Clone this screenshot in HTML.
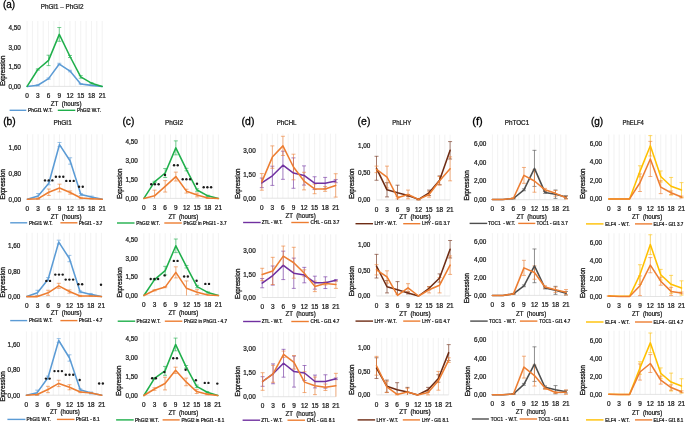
<!DOCTYPE html>
<html><head><meta charset="utf-8"><title>Figure</title>
<style>
html,body{margin:0;padding:0;background:#fff;}
body{width:685px;height:422px;overflow:hidden;}
svg{display:block;will-change:transform;font-family:"Liberation Sans",sans-serif;}
text{fill:#1a1a1a;stroke:#1a1a1a;stroke-width:0.24px;}
text.L{fill:#000;stroke:#000;stroke-width:0.3px;}
text.E{stroke-width:0.32px;}
</style></head>
<body>
<svg width="685" height="422" viewBox="0 0 685 422">
<rect width="685" height="422" fill="#fff"/>
<path d="M27.1 21V86.4M32.46 21V86.4M37.83 21V86.4M43.19 21V86.4M48.56 21V86.4M53.92 21V86.4M59.29 21V86.4M64.65 21V86.4M70.01 21V86.4M75.38 21V86.4M80.74 21V86.4M86.11 21V86.4M91.47 21V86.4M96.84 21V86.4M102.2 21V86.4" stroke="#e9e9e9" stroke-width="0.6" fill="none"/>
<path d="M27.1 86.4H102.2" stroke="#d9d9d9" stroke-width="0.7" fill="none"/>
<text x="8.5" y="88.7" font-size="6.4" textLength="12.4" lengthAdjust="spacingAndGlyphs">0,00</text>
<text x="8.5" y="69.2" font-size="6.4" textLength="12.4" lengthAdjust="spacingAndGlyphs">1,50</text>
<text x="8.5" y="49.7" font-size="6.4" textLength="12.4" lengthAdjust="spacingAndGlyphs">3,00</text>
<text x="8.5" y="30.2" font-size="6.4" textLength="12.4" lengthAdjust="spacingAndGlyphs">4,50</text>
<text x="25.3" y="98.1" font-size="6.4" textLength="3.6" lengthAdjust="spacingAndGlyphs">0</text>
<text x="36.03" y="98.1" font-size="6.4" textLength="3.6" lengthAdjust="spacingAndGlyphs">3</text>
<text x="46.76" y="98.1" font-size="6.4" textLength="3.6" lengthAdjust="spacingAndGlyphs">6</text>
<text x="57.49" y="98.1" font-size="6.4" textLength="3.6" lengthAdjust="spacingAndGlyphs">9</text>
<text x="66.46" y="98.1" font-size="6.4" textLength="7.1" lengthAdjust="spacingAndGlyphs">12</text>
<text x="77.19" y="98.1" font-size="6.4" textLength="7.1" lengthAdjust="spacingAndGlyphs">15</text>
<text x="87.92" y="98.1" font-size="6.4" textLength="7.1" lengthAdjust="spacingAndGlyphs">18</text>
<text x="98.65" y="98.1" font-size="6.4" textLength="7.1" lengthAdjust="spacingAndGlyphs">21</text>
<text x="50.8" y="105.7" font-size="6.4" textLength="30.7" lengthAdjust="spacingAndGlyphs">ZT&#160;&#160;(hours)</text>
<text transform="translate(5.1 85.8) rotate(-90)" x="0" y="0" font-size="6.4" class="E" textLength="30.2" lengthAdjust="spacingAndGlyphs">Expression</text>
<path d="M37.83 84.58V85.88M35.83 84.58h4M35.83 85.88h4M48.56 77.95V79.25M46.56 77.95h4M46.56 79.25h4M59.29 63.26V64.82M57.29 63.26h4M57.29 64.82h4M70.01 70.28V71.84M68.01 70.28h4M68.01 71.84h4M80.74 83.54V84.32M78.74 83.54h4M78.74 84.32h4M91.47 85.1V85.62M89.47 85.1h4M89.47 85.62h4" stroke="#5B9BD5" stroke-width="0.75" fill="none" opacity="0.8"/>
<path d="M37.83 68.85V70.15M35.83 68.85h4M35.83 70.15h4M48.56 55.2V65.6M46.56 55.2h4M46.56 65.6h4M59.29 27.51V41.29M57.29 27.51h4M57.29 41.29h4M70.01 55.46V57.54M68.01 55.46h4M68.01 57.54h4M80.74 75.61V78.21M78.74 75.61h4M78.74 78.21h4M91.47 82.5V83.8M89.47 82.5h4M89.47 83.8h4" stroke="#1FAF4B" stroke-width="0.75" fill="none" opacity="0.8"/>
<polyline points="27.1,86.4 37.83,85.23 48.56,78.6 59.29,64.04 70.01,71.06 80.74,83.93 91.47,85.36 102.2,86.4" stroke="#5B9BD5" stroke-width="1.55" fill="none" stroke-linejoin="round" stroke-linecap="round"/>
<polyline points="27.1,86.4 37.83,69.5 48.56,60.4 59.29,34.4 70.01,56.5 80.74,76.91 91.47,83.15 102.2,86.4" stroke="#1FAF4B" stroke-width="1.55" fill="none" stroke-linejoin="round" stroke-linecap="round"/>
<path d="M9.6 110.3H26.3" stroke="#5B9BD5" stroke-width="1.4" fill="none"/>
<text x="28" y="112" font-size="4.7" textLength="24.6" lengthAdjust="spacingAndGlyphs">PhGI1 W.T.</text>
<path d="M57.8 110.3H75.3" stroke="#1FAF4B" stroke-width="1.4" fill="none"/>
<text x="77" y="112" font-size="4.7" textLength="24" lengthAdjust="spacingAndGlyphs">PhGI2 W.T.</text>
<text x="3" y="8.2" font-size="10.5" textLength="12.2" lengthAdjust="spacingAndGlyphs" class="L">(a)</text>
<text x="40.7" y="8.7" font-size="6.4" textLength="42.8" lengthAdjust="spacingAndGlyphs">PhGI1 &#8211; PhGI2</text>
<path d="M27.4 134.3V199.3M32.75 134.3V199.3M38.1 134.3V199.3M43.45 134.3V199.3M48.8 134.3V199.3M54.15 134.3V199.3M59.5 134.3V199.3M64.85 134.3V199.3M70.2 134.3V199.3M75.55 134.3V199.3M80.9 134.3V199.3M86.25 134.3V199.3M91.6 134.3V199.3M96.95 134.3V199.3M102.3 134.3V199.3" stroke="#e9e9e9" stroke-width="0.6" fill="none"/>
<path d="M27.4 199.3H102.3" stroke="#d9d9d9" stroke-width="0.7" fill="none"/>
<text x="8.6" y="201.6" font-size="6.4" textLength="12.4" lengthAdjust="spacingAndGlyphs">0,00</text>
<text x="8.6" y="175.84" font-size="6.4" textLength="12.4" lengthAdjust="spacingAndGlyphs">0,80</text>
<text x="8.6" y="150.08" font-size="6.4" textLength="12.4" lengthAdjust="spacingAndGlyphs">1,60</text>
<text x="25.6" y="211" font-size="6.4" textLength="3.6" lengthAdjust="spacingAndGlyphs">0</text>
<text x="36.3" y="211" font-size="6.4" textLength="3.6" lengthAdjust="spacingAndGlyphs">3</text>
<text x="47" y="211" font-size="6.4" textLength="3.6" lengthAdjust="spacingAndGlyphs">6</text>
<text x="57.7" y="211" font-size="6.4" textLength="3.6" lengthAdjust="spacingAndGlyphs">9</text>
<text x="66.65" y="211" font-size="6.4" textLength="7.1" lengthAdjust="spacingAndGlyphs">12</text>
<text x="77.35" y="211" font-size="6.4" textLength="7.1" lengthAdjust="spacingAndGlyphs">15</text>
<text x="88.05" y="211" font-size="6.4" textLength="7.1" lengthAdjust="spacingAndGlyphs">18</text>
<text x="98.75" y="211" font-size="6.4" textLength="7.1" lengthAdjust="spacingAndGlyphs">21</text>
<text x="50.8" y="218.5" font-size="6.4" textLength="30.7" lengthAdjust="spacingAndGlyphs">ZT&#160;&#160;(hours)</text>
<text transform="translate(5.2 199.4) rotate(-90)" x="0" y="0" font-size="6.4" class="E" textLength="30.2" lengthAdjust="spacingAndGlyphs">Expression</text>
<path d="M38.1 193.5V198.66M36.1 193.5h4M36.1 198.66h4M48.8 181.59V184.81M46.8 181.59h4M46.8 184.81h4M59.5 142.47V146.65M57.5 142.47h4M57.5 146.65h4M70.2 157.76V164.2M68.2 157.76h4M68.2 164.2h4M80.9 193.5V195.44M78.9 193.5h4M78.9 195.44h4M91.6 196.08V198.01M89.6 196.08h4M89.6 198.01h4" stroke="#5B9BD5" stroke-width="0.75" fill="none" opacity="0.8"/>
<path d="M38.1 198.01V199.3M36.1 198.01h4M36.1 199.3h4M48.8 189V195.44M46.8 189h4M46.8 195.44h4M59.5 184.17V191.89M57.5 184.17h4M57.5 191.89h4M70.2 190.93V194.15M68.2 190.93h4M68.2 194.15h4M80.9 197.37V198.66M78.9 197.37h4M78.9 198.66h4M91.6 198.33V198.98M89.6 198.33h4M89.6 198.98h4" stroke="#ED7D31" stroke-width="0.75" fill="none" opacity="0.8"/>
<polyline points="27.4,199.3 38.1,196.08 48.8,183.2 59.5,144.56 70.2,160.98 80.9,194.47 91.6,197.05 102.3,199.3" stroke="#5B9BD5" stroke-width="1.55" fill="none" stroke-linejoin="round" stroke-linecap="round"/>
<polyline points="27.4,199.3 38.1,198.66 48.8,192.22 59.5,188.03 70.2,192.54 80.9,198.01 91.6,198.66 102.3,199.3" stroke="#ED7D31" stroke-width="1.55" fill="none" stroke-linejoin="round" stroke-linecap="round"/>
<circle cx="45" cy="180.4" r="1.2" fill="#1a1a1a"/>
<circle cx="48.7" cy="180.4" r="1.2" fill="#1a1a1a"/>
<circle cx="52.4" cy="180.4" r="1.2" fill="#1a1a1a"/>
<circle cx="55.9" cy="176.7" r="1.2" fill="#1a1a1a"/>
<circle cx="59.6" cy="176.7" r="1.2" fill="#1a1a1a"/>
<circle cx="63.3" cy="176.7" r="1.2" fill="#1a1a1a"/>
<circle cx="66.3" cy="180.9" r="1.2" fill="#1a1a1a"/>
<circle cx="70" cy="180.9" r="1.2" fill="#1a1a1a"/>
<circle cx="73.7" cy="180.9" r="1.2" fill="#1a1a1a"/>
<circle cx="79.05" cy="186.8" r="1.2" fill="#1a1a1a"/>
<circle cx="82.75" cy="186.8" r="1.2" fill="#1a1a1a"/>
<path d="M10.2 222.8H27.2" stroke="#5B9BD5" stroke-width="1.4" fill="none"/>
<text x="28.9" y="224.5" font-size="4.7" textLength="23.7" lengthAdjust="spacingAndGlyphs">PhGI1 W.T.</text>
<path d="M60.4 222.8H77.4" stroke="#ED7D31" stroke-width="1.4" fill="none"/>
<text x="78.8" y="224.5" font-size="4.7" textLength="23.6" lengthAdjust="spacingAndGlyphs">PhGI1 - 3.7</text>
<path d="M26.8 232.8V296.6M32.13 232.8V296.6M37.46 232.8V296.6M42.79 232.8V296.6M48.11 232.8V296.6M53.44 232.8V296.6M58.77 232.8V296.6M64.1 232.8V296.6M69.43 232.8V296.6M74.76 232.8V296.6M80.09 232.8V296.6M85.41 232.8V296.6M90.74 232.8V296.6M96.07 232.8V296.6M101.4 232.8V296.6" stroke="#e9e9e9" stroke-width="0.6" fill="none"/>
<path d="M26.8 296.6H101.4" stroke="#d9d9d9" stroke-width="0.7" fill="none"/>
<text x="7.9" y="298.9" font-size="6.4" textLength="12.4" lengthAdjust="spacingAndGlyphs">0,00</text>
<text x="7.9" y="273.54" font-size="6.4" textLength="12.4" lengthAdjust="spacingAndGlyphs">0,80</text>
<text x="7.9" y="248.18" font-size="6.4" textLength="12.4" lengthAdjust="spacingAndGlyphs">1,60</text>
<text x="25" y="308.3" font-size="6.4" textLength="3.6" lengthAdjust="spacingAndGlyphs">0</text>
<text x="35.66" y="308.3" font-size="6.4" textLength="3.6" lengthAdjust="spacingAndGlyphs">3</text>
<text x="46.31" y="308.3" font-size="6.4" textLength="3.6" lengthAdjust="spacingAndGlyphs">6</text>
<text x="56.97" y="308.3" font-size="6.4" textLength="3.6" lengthAdjust="spacingAndGlyphs">9</text>
<text x="65.88" y="308.3" font-size="6.4" textLength="7.1" lengthAdjust="spacingAndGlyphs">12</text>
<text x="76.54" y="308.3" font-size="6.4" textLength="7.1" lengthAdjust="spacingAndGlyphs">15</text>
<text x="87.19" y="308.3" font-size="6.4" textLength="7.1" lengthAdjust="spacingAndGlyphs">18</text>
<text x="97.85" y="308.3" font-size="6.4" textLength="7.1" lengthAdjust="spacingAndGlyphs">21</text>
<text x="50.8" y="315.2" font-size="6.4" textLength="30.7" lengthAdjust="spacingAndGlyphs">ZT&#160;&#160;(hours)</text>
<text transform="translate(5.2 297.4) rotate(-90)" x="0" y="0" font-size="6.4" class="E" textLength="30.2" lengthAdjust="spacingAndGlyphs">Expression</text>
<path d="M37.46 290.26V295.33M35.46 290.26h4M35.46 295.33h4M48.11 277.58V280.75M46.11 277.58h4M46.11 280.75h4M58.77 240.17V243.98M56.77 240.17h4M56.77 243.98h4M69.43 255.39V261.73M67.43 255.39h4M67.43 261.73h4M80.09 290.89V292.8M78.09 290.89h4M78.09 292.8h4M90.74 293.43V295.33M88.74 293.43h4M88.74 295.33h4" stroke="#5B9BD5" stroke-width="0.75" fill="none" opacity="0.8"/>
<path d="M37.46 295.97V296.6M35.46 295.97h4M48.11 290.26V295.33M46.11 290.26h4M46.11 295.33h4M58.77 283.29V288.36M56.77 283.29h4M56.77 288.36h4M69.43 289.94V293.11M67.43 289.94h4M67.43 293.11h4M80.09 295.33V296.6M78.09 295.33h4M78.09 296.6h4M90.74 295.65V296.28M88.74 295.65h4M88.74 296.28h4" stroke="#ED7D31" stroke-width="0.75" fill="none" opacity="0.8"/>
<polyline points="26.8,296.6 37.46,292.8 48.11,279.17 58.77,242.08 69.43,258.56 80.09,291.85 90.74,294.38 101.4,296.6" stroke="#5B9BD5" stroke-width="1.55" fill="none" stroke-linejoin="round" stroke-linecap="round"/>
<polyline points="26.8,296.6 37.46,296.6 48.11,292.8 58.77,285.82 69.43,291.53 80.09,295.97 90.74,295.97 101.4,296.6" stroke="#ED7D31" stroke-width="1.55" fill="none" stroke-linejoin="round" stroke-linecap="round"/>
<circle cx="46.35" cy="280.9" r="1.2" fill="#1a1a1a"/>
<circle cx="50.05" cy="280.9" r="1.2" fill="#1a1a1a"/>
<circle cx="55.3" cy="274.6" r="1.2" fill="#1a1a1a"/>
<circle cx="59" cy="274.6" r="1.2" fill="#1a1a1a"/>
<circle cx="62.7" cy="274.6" r="1.2" fill="#1a1a1a"/>
<circle cx="65.7" cy="279.6" r="1.2" fill="#1a1a1a"/>
<circle cx="69.4" cy="279.6" r="1.2" fill="#1a1a1a"/>
<circle cx="73.1" cy="279.6" r="1.2" fill="#1a1a1a"/>
<circle cx="78.45" cy="284.3" r="1.2" fill="#1a1a1a"/>
<circle cx="82.15" cy="284.3" r="1.2" fill="#1a1a1a"/>
<circle cx="101" cy="284.8" r="1.2" fill="#1a1a1a"/>
<path d="M10.2 320.6H27.2" stroke="#5B9BD5" stroke-width="1.4" fill="none"/>
<text x="28.9" y="322.3" font-size="4.7" textLength="23.7" lengthAdjust="spacingAndGlyphs">PhGI1 W.T.</text>
<path d="M60.4 320.6H77.4" stroke="#ED7D31" stroke-width="1.4" fill="none"/>
<text x="78.8" y="322.3" font-size="4.7" textLength="23.6" lengthAdjust="spacingAndGlyphs">PhGI1 - 4.7</text>
<path d="M26.4 331.5V395.2M31.79 331.5V395.2M37.17 331.5V395.2M42.56 331.5V395.2M47.94 331.5V395.2M53.33 331.5V395.2M58.71 331.5V395.2M64.1 331.5V395.2M69.49 331.5V395.2M74.87 331.5V395.2M80.26 331.5V395.2M85.64 331.5V395.2M91.03 331.5V395.2M96.41 331.5V395.2M101.8 331.5V395.2" stroke="#e9e9e9" stroke-width="0.6" fill="none"/>
<path d="M26.4 395.2H101.8" stroke="#d9d9d9" stroke-width="0.7" fill="none"/>
<text x="7.6" y="397.5" font-size="6.4" textLength="12.4" lengthAdjust="spacingAndGlyphs">0,00</text>
<text x="7.6" y="372.06" font-size="6.4" textLength="12.4" lengthAdjust="spacingAndGlyphs">0,80</text>
<text x="7.6" y="346.62" font-size="6.4" textLength="12.4" lengthAdjust="spacingAndGlyphs">1,60</text>
<text x="24.6" y="406.9" font-size="6.4" textLength="3.6" lengthAdjust="spacingAndGlyphs">0</text>
<text x="35.37" y="406.9" font-size="6.4" textLength="3.6" lengthAdjust="spacingAndGlyphs">3</text>
<text x="46.14" y="406.9" font-size="6.4" textLength="3.6" lengthAdjust="spacingAndGlyphs">6</text>
<text x="56.91" y="406.9" font-size="6.4" textLength="3.6" lengthAdjust="spacingAndGlyphs">9</text>
<text x="65.94" y="406.9" font-size="6.4" textLength="7.1" lengthAdjust="spacingAndGlyphs">12</text>
<text x="76.71" y="406.9" font-size="6.4" textLength="7.1" lengthAdjust="spacingAndGlyphs">15</text>
<text x="87.48" y="406.9" font-size="6.4" textLength="7.1" lengthAdjust="spacingAndGlyphs">18</text>
<text x="98.25" y="406.9" font-size="6.4" textLength="7.1" lengthAdjust="spacingAndGlyphs">21</text>
<text x="49.9" y="413.9" font-size="6.4" textLength="29.8" lengthAdjust="spacingAndGlyphs">ZT&#160;&#160;(hours)</text>
<text transform="translate(5.2 401.5) rotate(-90)" x="0" y="0" font-size="6.4" class="E" textLength="30.2" lengthAdjust="spacingAndGlyphs">Expression</text>
<path d="M37.17 390.11V395.2M35.17 390.11h4M35.17 395.2h4M47.94 376.12V379.3M45.94 376.12h4M45.94 379.3h4M58.71 338.6V342.41M56.71 338.6h4M56.71 342.41h4M69.49 354.81V361.17M67.49 354.81h4M67.49 361.17h4M80.26 388.84V390.75M78.26 388.84h4M78.26 390.75h4M91.03 392.02V393.93M89.03 392.02h4M89.03 393.93h4" stroke="#5B9BD5" stroke-width="0.75" fill="none" opacity="0.8"/>
<path d="M37.17 393.93V395.2M35.17 393.93h4M35.17 395.2h4M47.94 386.3V392.66M45.94 386.3h4M45.94 392.66h4M58.71 380.25V386.61M56.71 380.25h4M56.71 386.61h4M69.49 384.71V389.79M67.49 384.71h4M67.49 389.79h4M80.26 391.38V392.66M78.26 391.38h4M78.26 392.66h4M91.03 392.66V393.29M89.03 392.66h4M89.03 393.29h4" stroke="#ED7D31" stroke-width="0.75" fill="none" opacity="0.8"/>
<polyline points="26.4,395.2 37.17,392.66 47.94,377.71 58.71,340.5 69.49,357.99 80.26,389.79 91.03,392.97 101.8,395.2" stroke="#5B9BD5" stroke-width="1.55" fill="none" stroke-linejoin="round" stroke-linecap="round"/>
<polyline points="26.4,395.2 37.17,394.56 47.94,389.48 58.71,383.43 69.49,387.25 80.26,392.02 91.03,392.97 101.8,395.2" stroke="#ED7D31" stroke-width="1.55" fill="none" stroke-linejoin="round" stroke-linecap="round"/>
<circle cx="45.95" cy="378.6" r="1.2" fill="#1a1a1a"/>
<circle cx="49.65" cy="378.6" r="1.2" fill="#1a1a1a"/>
<circle cx="54.5" cy="371.1" r="1.2" fill="#1a1a1a"/>
<circle cx="58.2" cy="371.1" r="1.2" fill="#1a1a1a"/>
<circle cx="61.9" cy="371.1" r="1.2" fill="#1a1a1a"/>
<circle cx="65.8" cy="374.8" r="1.2" fill="#1a1a1a"/>
<circle cx="69.5" cy="374.8" r="1.2" fill="#1a1a1a"/>
<circle cx="73.2" cy="374.8" r="1.2" fill="#1a1a1a"/>
<circle cx="79.7" cy="380" r="1.2" fill="#1a1a1a"/>
<circle cx="99.15" cy="383.5" r="1.2" fill="#1a1a1a"/>
<circle cx="102.85" cy="383.5" r="1.2" fill="#1a1a1a"/>
<path d="M7.4 419.4H25.4" stroke="#5B9BD5" stroke-width="1.4" fill="none"/>
<text x="26.6" y="421.1" font-size="4.7" textLength="24.2" lengthAdjust="spacingAndGlyphs">PhGI1 W.T.</text>
<path d="M56.9 419.4H74.5" stroke="#ED7D31" stroke-width="1.4" fill="none"/>
<text x="75.7" y="421.1" font-size="4.7" textLength="23.8" lengthAdjust="spacingAndGlyphs">PhGI1 - 8.1</text>
<text x="3.2" y="124.9" font-size="10.5" textLength="12.6" lengthAdjust="spacingAndGlyphs" class="L">(b)</text>
<text x="53.4" y="124.5" font-size="6.4" textLength="18.4" lengthAdjust="spacingAndGlyphs">PhGI1</text>
<path d="M143.9 134.5V198.4M149.22 134.5V198.4M154.54 134.5V198.4M159.86 134.5V198.4M165.19 134.5V198.4M170.51 134.5V198.4M175.83 134.5V198.4M181.15 134.5V198.4M186.47 134.5V198.4M191.79 134.5V198.4M197.11 134.5V198.4M202.44 134.5V198.4M207.76 134.5V198.4M213.08 134.5V198.4M218.4 134.5V198.4" stroke="#e9e9e9" stroke-width="0.6" fill="none"/>
<path d="M143.9 198.4H218.4" stroke="#d9d9d9" stroke-width="0.7" fill="none"/>
<text x="125.4" y="200.7" font-size="6.4" textLength="12.4" lengthAdjust="spacingAndGlyphs">0,00</text>
<text x="125.4" y="181.65" font-size="6.4" textLength="12.4" lengthAdjust="spacingAndGlyphs">1,50</text>
<text x="125.4" y="162.6" font-size="6.4" textLength="12.4" lengthAdjust="spacingAndGlyphs">3,00</text>
<text x="125.4" y="143.55" font-size="6.4" textLength="12.4" lengthAdjust="spacingAndGlyphs">4,50</text>
<text x="142.1" y="210.1" font-size="6.4" textLength="3.6" lengthAdjust="spacingAndGlyphs">0</text>
<text x="152.74" y="210.1" font-size="6.4" textLength="3.6" lengthAdjust="spacingAndGlyphs">3</text>
<text x="163.39" y="210.1" font-size="6.4" textLength="3.6" lengthAdjust="spacingAndGlyphs">6</text>
<text x="174.03" y="210.1" font-size="6.4" textLength="3.6" lengthAdjust="spacingAndGlyphs">9</text>
<text x="182.92" y="210.1" font-size="6.4" textLength="7.1" lengthAdjust="spacingAndGlyphs">12</text>
<text x="193.56" y="210.1" font-size="6.4" textLength="7.1" lengthAdjust="spacingAndGlyphs">15</text>
<text x="204.21" y="210.1" font-size="6.4" textLength="7.1" lengthAdjust="spacingAndGlyphs">18</text>
<text x="214.85" y="210.1" font-size="6.4" textLength="7.1" lengthAdjust="spacingAndGlyphs">21</text>
<text x="168.4" y="218.5" font-size="6.4" textLength="29.8" lengthAdjust="spacingAndGlyphs">ZT&#160;&#160;(hours)</text>
<text transform="translate(121.6 198.85) rotate(-90)" x="0" y="0" font-size="6.4" class="E" textLength="30.2" lengthAdjust="spacingAndGlyphs">Expression</text>
<path d="M154.54 181.25V182.53M152.54 181.25h4M152.54 182.53h4M165.19 168.56V177.44M163.19 168.56h4M163.19 177.44h4M175.83 140.87V154.84M173.83 140.87h4M173.83 154.84h4M186.47 168.3V170.84M184.47 168.3h4M184.47 170.84h4M197.11 188.75V191.29M195.11 188.75h4M195.11 191.29h4M207.76 195.22V196.5M205.76 195.22h4M205.76 196.5h4" stroke="#1FAF4B" stroke-width="0.75" fill="none" opacity="0.8"/>
<path d="M154.54 190.15V198.4M152.54 190.15h4M165.19 180.62V192.05M163.19 180.62h4M163.19 192.05h4M175.83 172.11V181M173.83 172.11h4M173.83 181h4M186.47 189.26V193.07M184.47 189.26h4M184.47 193.07h4M197.11 193.07V196.88M195.11 193.07h4M195.11 196.88h4M207.76 197.64V198.4M205.76 197.64h4M205.76 198.4h4" stroke="#ED7D31" stroke-width="0.75" fill="none" opacity="0.8"/>
<polyline points="143.9,198.4 154.54,181.89 165.19,173 175.83,147.85 186.47,169.57 197.11,190.02 207.76,195.86 218.4,198.4" stroke="#1FAF4B" stroke-width="1.55" fill="none" stroke-linejoin="round" stroke-linecap="round"/>
<polyline points="143.9,198.4 154.54,195.86 165.19,186.34 175.83,176.56 186.47,191.16 197.11,194.97 207.76,198.02 218.4,198.4" stroke="#ED7D31" stroke-width="1.55" fill="none" stroke-linejoin="round" stroke-linecap="round"/>
<circle cx="151.2" cy="184.2" r="1.2" fill="#1a1a1a"/>
<circle cx="154.9" cy="184.2" r="1.2" fill="#1a1a1a"/>
<circle cx="158.6" cy="184.2" r="1.2" fill="#1a1a1a"/>
<circle cx="165" cy="174.9" r="1.2" fill="#1a1a1a"/>
<circle cx="174.05" cy="165.3" r="1.2" fill="#1a1a1a"/>
<circle cx="177.75" cy="165.3" r="1.2" fill="#1a1a1a"/>
<circle cx="182.7" cy="179.3" r="1.2" fill="#1a1a1a"/>
<circle cx="186.4" cy="179.3" r="1.2" fill="#1a1a1a"/>
<circle cx="190.1" cy="179.3" r="1.2" fill="#1a1a1a"/>
<circle cx="197" cy="183.7" r="1.2" fill="#1a1a1a"/>
<circle cx="203.7" cy="187.2" r="1.2" fill="#1a1a1a"/>
<circle cx="207.4" cy="187.2" r="1.2" fill="#1a1a1a"/>
<circle cx="211.1" cy="187.2" r="1.2" fill="#1a1a1a"/>
<path d="M117 223H134.5" stroke="#1FAF4B" stroke-width="1.4" fill="none"/>
<text x="136.3" y="224.7" font-size="4.7" textLength="23.7" lengthAdjust="spacingAndGlyphs">PhGI2 W.T.</text>
<path d="M164.3 223H181.8" stroke="#ED7D31" stroke-width="1.4" fill="none"/>
<text x="183.6" y="224.7" font-size="4.7" textLength="42.9" lengthAdjust="spacingAndGlyphs">PhGI2 in PhGI1 - 3.7</text>
<path d="M143.9 233.2V295.5M149.22 233.2V295.5M154.54 233.2V295.5M159.86 233.2V295.5M165.19 233.2V295.5M170.51 233.2V295.5M175.83 233.2V295.5M181.15 233.2V295.5M186.47 233.2V295.5M191.79 233.2V295.5M197.11 233.2V295.5M202.44 233.2V295.5M207.76 233.2V295.5M213.08 233.2V295.5M218.4 233.2V295.5" stroke="#e9e9e9" stroke-width="0.6" fill="none"/>
<path d="M143.9 295.5H218.4" stroke="#d9d9d9" stroke-width="0.7" fill="none"/>
<text x="125.4" y="297.8" font-size="6.4" textLength="12.4" lengthAdjust="spacingAndGlyphs">0,00</text>
<text x="125.4" y="279.26" font-size="6.4" textLength="12.4" lengthAdjust="spacingAndGlyphs">1,50</text>
<text x="125.4" y="260.72" font-size="6.4" textLength="12.4" lengthAdjust="spacingAndGlyphs">3,00</text>
<text x="125.4" y="242.18" font-size="6.4" textLength="12.4" lengthAdjust="spacingAndGlyphs">4,50</text>
<text x="142.1" y="307.2" font-size="6.4" textLength="3.6" lengthAdjust="spacingAndGlyphs">0</text>
<text x="152.74" y="307.2" font-size="6.4" textLength="3.6" lengthAdjust="spacingAndGlyphs">3</text>
<text x="163.39" y="307.2" font-size="6.4" textLength="3.6" lengthAdjust="spacingAndGlyphs">6</text>
<text x="174.03" y="307.2" font-size="6.4" textLength="3.6" lengthAdjust="spacingAndGlyphs">9</text>
<text x="182.92" y="307.2" font-size="6.4" textLength="7.1" lengthAdjust="spacingAndGlyphs">12</text>
<text x="193.56" y="307.2" font-size="6.4" textLength="7.1" lengthAdjust="spacingAndGlyphs">15</text>
<text x="204.21" y="307.2" font-size="6.4" textLength="7.1" lengthAdjust="spacingAndGlyphs">18</text>
<text x="214.85" y="307.2" font-size="6.4" textLength="7.1" lengthAdjust="spacingAndGlyphs">21</text>
<text x="168.4" y="315.1" font-size="6.4" textLength="29.8" lengthAdjust="spacingAndGlyphs">ZT&#160;&#160;(hours)</text>
<text transform="translate(121.7 297.5) rotate(-90)" x="0" y="0" font-size="6.4" class="E" textLength="30.2" lengthAdjust="spacingAndGlyphs">Expression</text>
<path d="M154.54 278.94V280.17M152.54 278.94h4M152.54 280.17h4M165.19 266.33V274.98M163.19 266.33h4M163.19 274.98h4M175.83 239.01V252.61M173.83 239.01h4M173.83 252.61h4M186.47 265.47V267.94M184.47 265.47h4M184.47 267.94h4M197.11 285.36V287.84M195.11 285.36h4M195.11 287.84h4M207.76 291.79V293.03M205.76 291.79h4M205.76 293.03h4" stroke="#1FAF4B" stroke-width="0.75" fill="none" opacity="0.8"/>
<path d="M154.54 289.69V290.93M152.54 289.69h4M152.54 290.93h4M165.19 286.48V287.71M163.19 286.48h4M163.19 287.71h4M175.83 266.82V277.95M173.83 266.82h4M173.83 277.95h4M186.47 280.92V295.5M184.47 280.92h4M197.11 289.69V294.63M195.11 289.69h4M195.11 294.63h4M207.76 294.39V295.5M205.76 294.39h4" stroke="#ED7D31" stroke-width="0.75" fill="none" opacity="0.8"/>
<polyline points="143.9,295.5 154.54,279.56 165.19,270.66 175.83,245.81 186.47,266.7 197.11,286.6 207.76,292.41 218.4,295.5" stroke="#1FAF4B" stroke-width="1.55" fill="none" stroke-linejoin="round" stroke-linecap="round"/>
<polyline points="143.9,295.5 154.54,290.31 165.19,287.1 175.83,272.39 186.47,288.33 197.11,292.16 207.76,295.01 218.4,295.5" stroke="#ED7D31" stroke-width="1.55" fill="none" stroke-linejoin="round" stroke-linecap="round"/>
<circle cx="150.7" cy="279" r="1.2" fill="#1a1a1a"/>
<circle cx="154.4" cy="279" r="1.2" fill="#1a1a1a"/>
<circle cx="158.1" cy="279" r="1.2" fill="#1a1a1a"/>
<circle cx="164.7" cy="275.4" r="1.2" fill="#1a1a1a"/>
<circle cx="173.85" cy="260.9" r="1.2" fill="#1a1a1a"/>
<circle cx="177.55" cy="260.9" r="1.2" fill="#1a1a1a"/>
<circle cx="184.15" cy="276.5" r="1.2" fill="#1a1a1a"/>
<circle cx="187.85" cy="276.5" r="1.2" fill="#1a1a1a"/>
<circle cx="196.6" cy="280.7" r="1.2" fill="#1a1a1a"/>
<circle cx="205.35" cy="283.9" r="1.2" fill="#1a1a1a"/>
<circle cx="209.05" cy="283.9" r="1.2" fill="#1a1a1a"/>
<path d="M117.7 321.2H135.2" stroke="#1FAF4B" stroke-width="1.4" fill="none"/>
<text x="136.6" y="322.9" font-size="4.7" textLength="24" lengthAdjust="spacingAndGlyphs">PhGI2 W.T.</text>
<path d="M164.8 321.2H182.3" stroke="#ED7D31" stroke-width="1.4" fill="none"/>
<text x="184.1" y="322.9" font-size="4.7" textLength="42.9" lengthAdjust="spacingAndGlyphs">PhGI2 in PhGI1 - 4.7</text>
<path d="M143.9 331.9V395.5M149.18 331.9V395.5M154.46 331.9V395.5M159.74 331.9V395.5M165.01 331.9V395.5M170.29 331.9V395.5M175.57 331.9V395.5M180.85 331.9V395.5M186.13 331.9V395.5M191.41 331.9V395.5M196.69 331.9V395.5M201.96 331.9V395.5M207.24 331.9V395.5M212.52 331.9V395.5M217.8 331.9V395.5" stroke="#e9e9e9" stroke-width="0.6" fill="none"/>
<path d="M143.9 395.5H217.8" stroke="#d9d9d9" stroke-width="0.7" fill="none"/>
<text x="125.4" y="397.8" font-size="6.4" textLength="12.4" lengthAdjust="spacingAndGlyphs">0,00</text>
<text x="125.4" y="378.75" font-size="6.4" textLength="12.4" lengthAdjust="spacingAndGlyphs">1,50</text>
<text x="125.4" y="359.7" font-size="6.4" textLength="12.4" lengthAdjust="spacingAndGlyphs">3,00</text>
<text x="125.4" y="340.65" font-size="6.4" textLength="12.4" lengthAdjust="spacingAndGlyphs">4,50</text>
<text x="142.1" y="407.2" font-size="6.4" textLength="3.6" lengthAdjust="spacingAndGlyphs">0</text>
<text x="152.66" y="407.2" font-size="6.4" textLength="3.6" lengthAdjust="spacingAndGlyphs">3</text>
<text x="163.21" y="407.2" font-size="6.4" textLength="3.6" lengthAdjust="spacingAndGlyphs">6</text>
<text x="173.77" y="407.2" font-size="6.4" textLength="3.6" lengthAdjust="spacingAndGlyphs">9</text>
<text x="182.58" y="407.2" font-size="6.4" textLength="7.1" lengthAdjust="spacingAndGlyphs">12</text>
<text x="193.14" y="407.2" font-size="6.4" textLength="7.1" lengthAdjust="spacingAndGlyphs">15</text>
<text x="203.69" y="407.2" font-size="6.4" textLength="7.1" lengthAdjust="spacingAndGlyphs">18</text>
<text x="214.25" y="407.2" font-size="6.4" textLength="7.1" lengthAdjust="spacingAndGlyphs">21</text>
<text x="168.4" y="414.6" font-size="6.4" textLength="29.8" lengthAdjust="spacingAndGlyphs">ZT&#160;&#160;(hours)</text>
<text transform="translate(121.3 395.8) rotate(-90)" x="0" y="0" font-size="6.4" class="E" textLength="30.2" lengthAdjust="spacingAndGlyphs">Expression</text>
<path d="M154.46 377.72V378.99M152.46 377.72h4M152.46 378.99h4M165.01 366.42V375.31M163.01 366.42h4M163.01 375.31h4M175.57 338.1V350.8M173.57 338.1h4M173.57 350.8h4M186.13 365.53V368.07M184.13 365.53h4M184.13 368.07h4M196.69 385.09V387.63M194.69 385.09h4M194.69 387.63h4M207.24 391.56V392.83M205.24 391.56h4M205.24 392.83h4" stroke="#1FAF4B" stroke-width="0.75" fill="none" opacity="0.8"/>
<path d="M154.46 387.75V390.29M152.46 387.75h4M152.46 390.29h4M165.01 377.21V389.91M163.01 377.21h4M163.01 389.91h4M175.57 367.18V373.53M173.57 367.18h4M173.57 373.53h4M186.13 378.1V385.72M184.13 378.1h4M184.13 385.72h4M196.69 389.66V393.47M194.69 389.66h4M194.69 393.47h4M207.24 393.6V394.87M205.24 393.6h4M205.24 394.87h4" stroke="#ED7D31" stroke-width="0.75" fill="none" opacity="0.8"/>
<polyline points="143.9,395.5 154.46,378.36 165.01,370.86 175.57,344.45 186.13,366.8 196.69,386.36 207.24,392.2 217.8,395.5" stroke="#1FAF4B" stroke-width="1.55" fill="none" stroke-linejoin="round" stroke-linecap="round"/>
<polyline points="143.9,395.5 154.46,389.02 165.01,383.56 175.57,370.35 186.13,381.91 196.69,391.56 207.24,394.23 217.8,395.5" stroke="#ED7D31" stroke-width="1.55" fill="none" stroke-linejoin="round" stroke-linecap="round"/>
<circle cx="152.15" cy="378.3" r="1.2" fill="#1a1a1a"/>
<circle cx="155.85" cy="378.3" r="1.2" fill="#1a1a1a"/>
<circle cx="164.4" cy="372.1" r="1.2" fill="#1a1a1a"/>
<circle cx="173.25" cy="358.3" r="1.2" fill="#1a1a1a"/>
<circle cx="176.95" cy="358.3" r="1.2" fill="#1a1a1a"/>
<circle cx="185.6" cy="369.8" r="1.2" fill="#1a1a1a"/>
<circle cx="195.9" cy="380.2" r="1.2" fill="#1a1a1a"/>
<circle cx="204.75" cy="382.9" r="1.2" fill="#1a1a1a"/>
<circle cx="208.45" cy="382.9" r="1.2" fill="#1a1a1a"/>
<circle cx="217.3" cy="383.6" r="1.2" fill="#1a1a1a"/>
<path d="M116.1 419.9H133.7" stroke="#1FAF4B" stroke-width="1.4" fill="none"/>
<text x="134.9" y="421.6" font-size="4.7" textLength="24.1" lengthAdjust="spacingAndGlyphs">PhGI2 W.T.</text>
<path d="M162.6 419.9H179.7" stroke="#ED7D31" stroke-width="1.4" fill="none"/>
<text x="181.5" y="421.6" font-size="4.7" textLength="42.7" lengthAdjust="spacingAndGlyphs">PhGI2 in PhGI1 - 8.1</text>
<text x="122.4" y="124.9" font-size="10.5" textLength="11.9" lengthAdjust="spacingAndGlyphs" class="L">(c)</text>
<text x="165" y="124.5" font-size="6.4" textLength="18" lengthAdjust="spacingAndGlyphs">PhGI2</text>
<path d="M261.8 133.7V198.2M267.08 133.7V198.2M272.36 133.7V198.2M277.64 133.7V198.2M282.91 133.7V198.2M288.19 133.7V198.2M293.47 133.7V198.2M298.75 133.7V198.2M304.03 133.7V198.2M309.31 133.7V198.2M314.59 133.7V198.2M319.86 133.7V198.2M325.14 133.7V198.2M330.42 133.7V198.2M335.7 133.7V198.2" stroke="#e9e9e9" stroke-width="0.6" fill="none"/>
<path d="M261.8 198.2H335.7" stroke="#d9d9d9" stroke-width="0.7" fill="none"/>
<text x="243.3" y="200.5" font-size="6.4" textLength="12.4" lengthAdjust="spacingAndGlyphs">0,00</text>
<text x="243.3" y="176.5" font-size="6.4" textLength="12.4" lengthAdjust="spacingAndGlyphs">1,50</text>
<text x="243.3" y="152.5" font-size="6.4" textLength="12.4" lengthAdjust="spacingAndGlyphs">3,00</text>
<text x="260" y="209.9" font-size="6.4" textLength="3.6" lengthAdjust="spacingAndGlyphs">0</text>
<text x="270.56" y="209.9" font-size="6.4" textLength="3.6" lengthAdjust="spacingAndGlyphs">3</text>
<text x="281.11" y="209.9" font-size="6.4" textLength="3.6" lengthAdjust="spacingAndGlyphs">6</text>
<text x="291.67" y="209.9" font-size="6.4" textLength="3.6" lengthAdjust="spacingAndGlyphs">9</text>
<text x="300.48" y="209.9" font-size="6.4" textLength="7.1" lengthAdjust="spacingAndGlyphs">12</text>
<text x="311.04" y="209.9" font-size="6.4" textLength="7.1" lengthAdjust="spacingAndGlyphs">15</text>
<text x="321.59" y="209.9" font-size="6.4" textLength="7.1" lengthAdjust="spacingAndGlyphs">18</text>
<text x="332.15" y="209.9" font-size="6.4" textLength="7.1" lengthAdjust="spacingAndGlyphs">21</text>
<text x="285.4" y="217.6" font-size="6.4" textLength="30.3" lengthAdjust="spacingAndGlyphs">ZT&#160;&#160;(hours)</text>
<text transform="translate(239.6 198.75) rotate(-90)" x="0" y="0" font-size="6.4" class="E" textLength="30.2" lengthAdjust="spacingAndGlyphs">Expression</text>
<path d="M261.8 178.04V187.64M259.8 178.04h4M259.8 187.64h4M272.36 166.2V185.4M270.36 166.2h4M270.36 185.4h4M282.91 151.16V179.32M280.91 151.16h4M280.91 179.32h4M293.47 157.88V188.28M291.47 157.88h4M291.47 188.28h4M304.03 165.88V185.08M302.03 165.88h4M302.03 185.08h4M314.59 176.76V189.56M312.59 176.76h4M312.59 189.56h4M325.14 177.4V188.92M323.14 177.4h4M323.14 188.92h4M335.7 179.48V182.68M333.7 179.48h4M333.7 182.68h4" stroke="#7030A0" stroke-width="0.75" fill="none" opacity="0.8"/>
<path d="M261.8 173.56V190.2M259.8 173.56h4M259.8 190.2h4M272.36 145.88V168.28M270.36 145.88h4M270.36 168.28h4M282.91 136.28V155.48M280.91 136.28h4M280.91 155.48h4M293.47 154.2V179.8M291.47 154.2h4M291.47 179.8h4M304.03 172.28V189.88M302.03 172.28h4M302.03 189.88h4M314.59 184.12V193.72M312.59 184.12h4M312.59 193.72h4M325.14 186.52V191.32M323.14 186.52h4M323.14 191.32h4M335.7 173.72V197.08M333.7 173.72h4M333.7 197.08h4" stroke="#ED7D31" stroke-width="0.75" fill="none" opacity="0.8"/>
<polyline points="261.8,182.84 272.36,175.8 282.91,165.24 293.47,173.08 304.03,175.48 314.59,183.16 325.14,183.16 335.7,181.08" stroke="#7030A0" stroke-width="1.55" fill="none" stroke-linejoin="round" stroke-linecap="round"/>
<polyline points="261.8,181.88 272.36,157.08 282.91,145.88 293.47,167 304.03,181.08 314.59,188.92 325.14,188.92 335.7,185.4" stroke="#ED7D31" stroke-width="1.55" fill="none" stroke-linejoin="round" stroke-linecap="round"/>
<path d="M243.1 222.5H260.7" stroke="#7030A0" stroke-width="1.4" fill="none"/>
<text x="261.8" y="224.2" font-size="4.7" textLength="20.8" lengthAdjust="spacingAndGlyphs">ZTL - W.T.</text>
<path d="M291.3 222.5H308.8" stroke="#ED7D31" stroke-width="1.4" fill="none"/>
<text x="310.6" y="224.2" font-size="4.7" textLength="28.9" lengthAdjust="spacingAndGlyphs">CHL - GI1 3.7</text>
<path d="M262.2 234.3V297.5M267.46 234.3V297.5M272.73 234.3V297.5M277.99 234.3V297.5M283.26 234.3V297.5M288.52 234.3V297.5M293.79 234.3V297.5M299.05 234.3V297.5M304.31 234.3V297.5M309.58 234.3V297.5M314.84 234.3V297.5M320.11 234.3V297.5M325.37 234.3V297.5M330.64 234.3V297.5M335.9 234.3V297.5" stroke="#e9e9e9" stroke-width="0.6" fill="none"/>
<path d="M262.2 297.5H335.9" stroke="#d9d9d9" stroke-width="0.7" fill="none"/>
<text x="243.3" y="299.8" font-size="6.4" textLength="12.4" lengthAdjust="spacingAndGlyphs">0,00</text>
<text x="243.3" y="276.62" font-size="6.4" textLength="12.4" lengthAdjust="spacingAndGlyphs">1,50</text>
<text x="243.3" y="253.45" font-size="6.4" textLength="12.4" lengthAdjust="spacingAndGlyphs">3,00</text>
<text x="260.4" y="309.2" font-size="6.4" textLength="3.6" lengthAdjust="spacingAndGlyphs">0</text>
<text x="270.93" y="309.2" font-size="6.4" textLength="3.6" lengthAdjust="spacingAndGlyphs">3</text>
<text x="281.46" y="309.2" font-size="6.4" textLength="3.6" lengthAdjust="spacingAndGlyphs">6</text>
<text x="291.99" y="309.2" font-size="6.4" textLength="3.6" lengthAdjust="spacingAndGlyphs">9</text>
<text x="300.76" y="309.2" font-size="6.4" textLength="7.1" lengthAdjust="spacingAndGlyphs">12</text>
<text x="311.29" y="309.2" font-size="6.4" textLength="7.1" lengthAdjust="spacingAndGlyphs">15</text>
<text x="321.82" y="309.2" font-size="6.4" textLength="7.1" lengthAdjust="spacingAndGlyphs">18</text>
<text x="332.35" y="309.2" font-size="6.4" textLength="7.1" lengthAdjust="spacingAndGlyphs">21</text>
<text x="285.4" y="316.2" font-size="6.4" textLength="30.3" lengthAdjust="spacingAndGlyphs">ZT&#160;&#160;(hours)</text>
<text transform="translate(239.9 298.9) rotate(-90)" x="0" y="0" font-size="6.4" class="E" textLength="30.2" lengthAdjust="spacingAndGlyphs">Expression</text>
<path d="M262.2 278.5V287.77M260.2 278.5h4M260.2 287.77h4M272.73 265.98V285.14M270.73 265.98h4M270.73 285.14h4M283.26 251.15V279.58M281.26 251.15h4M281.26 279.58h4M293.79 258.1V288.38M291.79 258.1h4M291.79 288.38h4M304.31 267.37V282.82M302.31 267.37h4M302.31 282.82h4M314.84 276.18V289.16M312.84 276.18h4M312.84 289.16h4M325.37 276.8V288.54M323.37 276.8h4M323.37 288.54h4M335.9 279.58V281.12M333.9 279.58h4M333.9 281.12h4" stroke="#7030A0" stroke-width="0.75" fill="none" opacity="0.8"/>
<path d="M262.2 268.3V280.66M260.2 268.3h4M260.2 280.66h4M272.73 257.33V284.52M270.73 257.33h4M270.73 284.52h4M283.26 246.05V266.14M281.26 246.05h4M281.26 266.14h4M293.79 247.29V278.19M291.79 247.29h4M291.79 278.19h4M304.31 269.84V276.64M302.31 269.84h4M302.31 276.64h4M314.84 281.12V291.63M312.84 281.12h4M312.84 291.63h4M325.37 281.9V284.99M323.37 281.9h4M323.37 284.99h4M335.9 280.66V288.38M333.9 280.66h4M333.9 288.38h4" stroke="#ED7D31" stroke-width="0.75" fill="none" opacity="0.8"/>
<polyline points="262.2,283.13 272.73,275.56 283.26,265.36 293.79,273.24 304.31,275.1 314.84,282.67 325.37,282.67 335.9,280.35" stroke="#7030A0" stroke-width="1.55" fill="none" stroke-linejoin="round" stroke-linecap="round"/>
<polyline points="262.2,274.48 272.73,270.93 283.26,256.09 293.79,262.74 304.31,273.24 314.84,286.38 325.37,283.44 335.9,284.52" stroke="#ED7D31" stroke-width="1.55" fill="none" stroke-linejoin="round" stroke-linecap="round"/>
<path d="M243.1 321.5H260.7" stroke="#7030A0" stroke-width="1.4" fill="none"/>
<text x="261.8" y="323.2" font-size="4.7" textLength="20.8" lengthAdjust="spacingAndGlyphs">ZTL - W.T.</text>
<path d="M291.3 321.5H308.8" stroke="#ED7D31" stroke-width="1.4" fill="none"/>
<text x="310.6" y="323.2" font-size="4.7" textLength="28.9" lengthAdjust="spacingAndGlyphs">CHL - GI1 4.7</text>
<path d="M262.6 331.9V396.7M267.84 331.9V396.7M273.07 331.9V396.7M278.31 331.9V396.7M283.54 331.9V396.7M288.78 331.9V396.7M294.01 331.9V396.7M299.25 331.9V396.7M304.49 331.9V396.7M309.72 331.9V396.7M314.96 331.9V396.7M320.19 331.9V396.7M325.43 331.9V396.7M330.66 331.9V396.7M335.9 331.9V396.7" stroke="#e9e9e9" stroke-width="0.6" fill="none"/>
<path d="M262.6 396.7H335.9" stroke="#d9d9d9" stroke-width="0.7" fill="none"/>
<text x="243.3" y="399" font-size="6.4" textLength="12.4" lengthAdjust="spacingAndGlyphs">0,00</text>
<text x="243.3" y="375" font-size="6.4" textLength="12.4" lengthAdjust="spacingAndGlyphs">1,50</text>
<text x="243.3" y="351" font-size="6.4" textLength="12.4" lengthAdjust="spacingAndGlyphs">3,00</text>
<text x="260.8" y="408.4" font-size="6.4" textLength="3.6" lengthAdjust="spacingAndGlyphs">0</text>
<text x="271.27" y="408.4" font-size="6.4" textLength="3.6" lengthAdjust="spacingAndGlyphs">3</text>
<text x="281.74" y="408.4" font-size="6.4" textLength="3.6" lengthAdjust="spacingAndGlyphs">6</text>
<text x="292.21" y="408.4" font-size="6.4" textLength="3.6" lengthAdjust="spacingAndGlyphs">9</text>
<text x="300.94" y="408.4" font-size="6.4" textLength="7.1" lengthAdjust="spacingAndGlyphs">12</text>
<text x="311.41" y="408.4" font-size="6.4" textLength="7.1" lengthAdjust="spacingAndGlyphs">15</text>
<text x="321.88" y="408.4" font-size="6.4" textLength="7.1" lengthAdjust="spacingAndGlyphs">18</text>
<text x="332.35" y="408.4" font-size="6.4" textLength="7.1" lengthAdjust="spacingAndGlyphs">21</text>
<text x="285.4" y="416.2" font-size="6.4" textLength="30.3" lengthAdjust="spacingAndGlyphs">ZT&#160;&#160;(hours)</text>
<text transform="translate(239.5 396.4) rotate(-90)" x="0" y="0" font-size="6.4" class="E" textLength="30.2" lengthAdjust="spacingAndGlyphs">Expression</text>
<path d="M262.6 376.7V386.3M260.6 376.7h4M260.6 386.3h4M273.07 363.9V383.74M271.07 363.9h4M271.07 383.74h4M283.54 349.34V377.18M281.54 349.34h4M281.54 377.18h4M294.01 356.06V387.1M292.01 356.06h4M292.01 387.1h4M304.49 365.5V380.54M302.49 365.5h4M302.49 380.54h4M314.96 375.1V387.9M312.96 375.1h4M312.96 387.9h4M325.43 374.78V388.22M323.43 374.78h4M323.43 388.22h4M335.9 377.98V379.58M333.9 377.98h4M333.9 379.58h4" stroke="#7030A0" stroke-width="0.75" fill="none" opacity="0.8"/>
<path d="M262.6 372.7V390.3M260.6 372.7h4M260.6 390.3h4M273.07 365.34V382.3M271.07 365.34h4M271.07 382.3h4M283.54 351.1V357.5M281.54 351.1h4M281.54 357.5h4M294.01 355.58V369.02M292.01 355.58h4M292.01 369.02h4M304.49 371.74V392.54M302.49 371.74h4M302.49 392.54h4M314.96 377.02V394.62M312.96 377.02h4M312.96 394.62h4M325.43 384.06V390.46M323.43 384.06h4M323.43 390.46h4M335.9 373.34V396.7M333.9 373.34h4" stroke="#ED7D31" stroke-width="0.75" fill="none" opacity="0.8"/>
<polyline points="262.6,381.5 273.07,373.82 283.54,363.26 294.01,371.58 304.49,373.02 314.96,381.5 325.43,381.5 335.9,378.78" stroke="#7030A0" stroke-width="1.55" fill="none" stroke-linejoin="round" stroke-linecap="round"/>
<polyline points="262.6,381.5 273.07,373.82 283.54,354.3 294.01,362.3 304.49,382.14 314.96,385.82 325.43,387.26 335.9,385.82" stroke="#ED7D31" stroke-width="1.55" fill="none" stroke-linejoin="round" stroke-linecap="round"/>
<path d="M242.6 420.2H260.1" stroke="#7030A0" stroke-width="1.4" fill="none"/>
<text x="261.2" y="421.9" font-size="4.7" textLength="21.4" lengthAdjust="spacingAndGlyphs">ZTL - W.T.</text>
<path d="M287.5 420.2H305" stroke="#ED7D31" stroke-width="1.4" fill="none"/>
<text x="306.7" y="421.9" font-size="4.7" textLength="28.4" lengthAdjust="spacingAndGlyphs">CHL - GI1 8.1</text>
<text x="241.6" y="124.9" font-size="10.5" textLength="12.8" lengthAdjust="spacingAndGlyphs" class="L">(d)</text>
<text x="276.7" y="124.5" font-size="6.4" textLength="19.8" lengthAdjust="spacingAndGlyphs">PhCHL</text>
<path d="M376.5 134.7V199.9M381.76 134.7V199.9M387.01 134.7V199.9M392.27 134.7V199.9M397.53 134.7V199.9M402.79 134.7V199.9M408.04 134.7V199.9M413.3 134.7V199.9M418.56 134.7V199.9M423.81 134.7V199.9M429.07 134.7V199.9M434.33 134.7V199.9M439.59 134.7V199.9M444.84 134.7V199.9M450.1 134.7V199.9" stroke="#e9e9e9" stroke-width="0.6" fill="none"/>
<path d="M376.5 199.9H450.1" stroke="#d9d9d9" stroke-width="0.7" fill="none"/>
<text x="358" y="202.2" font-size="6.4" textLength="12.4" lengthAdjust="spacingAndGlyphs">0,00</text>
<text x="358" y="174.95" font-size="6.4" textLength="12.4" lengthAdjust="spacingAndGlyphs">0,50</text>
<text x="358" y="147.7" font-size="6.4" textLength="12.4" lengthAdjust="spacingAndGlyphs">1,00</text>
<text x="374.7" y="211.6" font-size="6.4" textLength="3.6" lengthAdjust="spacingAndGlyphs">0</text>
<text x="385.21" y="211.6" font-size="6.4" textLength="3.6" lengthAdjust="spacingAndGlyphs">3</text>
<text x="395.73" y="211.6" font-size="6.4" textLength="3.6" lengthAdjust="spacingAndGlyphs">6</text>
<text x="406.24" y="211.6" font-size="6.4" textLength="3.6" lengthAdjust="spacingAndGlyphs">9</text>
<text x="415.01" y="211.6" font-size="6.4" textLength="7.1" lengthAdjust="spacingAndGlyphs">12</text>
<text x="425.52" y="211.6" font-size="6.4" textLength="7.1" lengthAdjust="spacingAndGlyphs">15</text>
<text x="436.04" y="211.6" font-size="6.4" textLength="7.1" lengthAdjust="spacingAndGlyphs">18</text>
<text x="446.55" y="211.6" font-size="6.4" textLength="7.1" lengthAdjust="spacingAndGlyphs">21</text>
<text x="399.3" y="219.4" font-size="6.4" textLength="31.2" lengthAdjust="spacingAndGlyphs">ZT&#160;&#160;(hours)</text>
<text transform="translate(353.5 198.75) rotate(-90)" x="0" y="0" font-size="6.4" class="E" textLength="30.2" lengthAdjust="spacingAndGlyphs">Expression</text>
<path d="M376.5 156.3V180.28M374.5 156.3h4M374.5 180.28h4M387.01 182.73V196.9M385.01 182.73h4M385.01 196.9h4M397.53 185.19V199.9M395.53 185.19h4M408.04 194.45V196.63M406.04 194.45h4M406.04 196.63h4M418.56 198.81V199.9M416.56 198.81h4M416.56 199.9h4M429.07 190.09V195.54M427.07 190.09h4M427.07 195.54h4M439.59 175.92V184.64M437.59 175.92h4M437.59 184.64h4M450.1 141.59V159.03M448.1 141.59h4M448.1 159.03h4" stroke="#6E2C14" stroke-width="0.75" fill="none" opacity="0.8"/>
<path d="M376.5 166.11V172.65M374.5 166.11h4M374.5 172.65h4M387.01 166.11V187.91M385.01 166.11h4M385.01 187.91h4M397.53 196.63V198.81M395.53 196.63h4M395.53 198.81h4M408.04 190.09V198.81M406.04 190.09h4M406.04 198.81h4M418.56 198.81V199.9M416.56 198.81h4M416.56 199.9h4M429.07 191.72V197.18M427.07 191.72h4M427.07 197.18h4M439.59 176.47V185.19M437.59 176.47h4M437.59 185.19h4M450.1 156.85V180.83M448.1 156.85h4M448.1 180.83h4" stroke="#ED7D31" stroke-width="0.75" fill="none" opacity="0.8"/>
<polyline points="376.5,168.29 387.01,189.82 397.53,192.81 408.04,195.54 418.56,199.36 429.07,192.81 439.59,180.28 450.1,150.31" stroke="#6E2C14" stroke-width="1.55" fill="none" stroke-linejoin="round" stroke-linecap="round"/>
<polyline points="376.5,169.38 387.01,177.01 397.53,197.72 408.04,194.45 418.56,199.36 429.07,194.45 439.59,180.83 450.1,168.84" stroke="#ED7D31" stroke-width="1.55" fill="none" stroke-linejoin="round" stroke-linecap="round"/>
<path d="M355.5 223.7H373" stroke="#6E2C14" stroke-width="1.4" fill="none"/>
<text x="374.4" y="225.4" font-size="4.7" textLength="22.3" lengthAdjust="spacingAndGlyphs">LHY - W.T.</text>
<path d="M403.2 223.7H420.3" stroke="#ED7D31" stroke-width="1.4" fill="none"/>
<text x="422" y="225.4" font-size="4.7" textLength="27.8" lengthAdjust="spacingAndGlyphs">LHY - GI1 3.7</text>
<path d="M376.5 233.7V296M381.76 233.7V296M387.01 233.7V296M392.27 233.7V296M397.53 233.7V296M402.79 233.7V296M408.04 233.7V296M413.3 233.7V296M418.56 233.7V296M423.81 233.7V296M429.07 233.7V296M434.33 233.7V296M439.59 233.7V296M444.84 233.7V296M450.1 233.7V296" stroke="#e9e9e9" stroke-width="0.6" fill="none"/>
<path d="M376.5 296H450.1" stroke="#d9d9d9" stroke-width="0.7" fill="none"/>
<text x="358" y="298.3" font-size="6.4" textLength="12.4" lengthAdjust="spacingAndGlyphs">0,00</text>
<text x="358" y="272.6" font-size="6.4" textLength="12.4" lengthAdjust="spacingAndGlyphs">0,50</text>
<text x="358" y="246.9" font-size="6.4" textLength="12.4" lengthAdjust="spacingAndGlyphs">1,00</text>
<text x="374.7" y="307.7" font-size="6.4" textLength="3.6" lengthAdjust="spacingAndGlyphs">0</text>
<text x="385.21" y="307.7" font-size="6.4" textLength="3.6" lengthAdjust="spacingAndGlyphs">3</text>
<text x="395.73" y="307.7" font-size="6.4" textLength="3.6" lengthAdjust="spacingAndGlyphs">6</text>
<text x="406.24" y="307.7" font-size="6.4" textLength="3.6" lengthAdjust="spacingAndGlyphs">9</text>
<text x="415.01" y="307.7" font-size="6.4" textLength="7.1" lengthAdjust="spacingAndGlyphs">12</text>
<text x="425.52" y="307.7" font-size="6.4" textLength="7.1" lengthAdjust="spacingAndGlyphs">15</text>
<text x="436.04" y="307.7" font-size="6.4" textLength="7.1" lengthAdjust="spacingAndGlyphs">18</text>
<text x="446.55" y="307.7" font-size="6.4" textLength="7.1" lengthAdjust="spacingAndGlyphs">21</text>
<text x="399.3" y="316.2" font-size="6.4" textLength="31.2" lengthAdjust="spacingAndGlyphs">ZT&#160;&#160;(hours)</text>
<text transform="translate(353.5 296.25) rotate(-90)" x="0" y="0" font-size="6.4" class="E" textLength="30.2" lengthAdjust="spacingAndGlyphs">Expression</text>
<path d="M376.5 254.37V278.01M374.5 254.37h4M374.5 278.01h4M387.01 280.58V292.92M385.01 280.58h4M385.01 292.92h4M397.53 281.61V296M395.53 281.61h4M408.04 291.89V293.94M406.04 291.89h4M406.04 293.94h4M429.07 286.75V289.83M427.07 286.75h4M427.07 289.83h4M439.59 273.9V282.12M437.59 273.9h4M437.59 282.12h4M450.1 240.49V257.96M448.1 240.49h4M448.1 257.96h4" stroke="#6E2C14" stroke-width="0.75" fill="none" opacity="0.8"/>
<path d="M376.5 264.65V274.93M374.5 264.65h4M374.5 274.93h4M387.01 270.81V283.15M385.01 270.81h4M385.01 283.15h4M397.53 294.46V296M395.53 294.46h4M408.04 283.66V291.89M406.04 283.66h4M406.04 291.89h4M429.07 286.75V292.92M427.07 286.75h4M427.07 292.92h4M439.59 277.5V292.92M437.59 277.5h4M437.59 292.92h4M450.1 255.91V274.41M448.1 255.91h4M448.1 274.41h4" stroke="#ED7D31" stroke-width="0.75" fill="none" opacity="0.8"/>
<polyline points="376.5,266.19 387.01,286.75 397.53,289.83 408.04,292.92 418.56,296 429.07,288.29 439.59,278.01 450.1,249.23" stroke="#6E2C14" stroke-width="1.55" fill="none" stroke-linejoin="round" stroke-linecap="round"/>
<polyline points="376.5,269.79 387.01,276.98 397.53,295.49 408.04,287.78 418.56,296 429.07,289.83 439.59,285.21 450.1,265.16" stroke="#ED7D31" stroke-width="1.55" fill="none" stroke-linejoin="round" stroke-linecap="round"/>
<path d="M355.5 321.1H373" stroke="#6E2C14" stroke-width="1.4" fill="none"/>
<text x="374.4" y="322.8" font-size="4.7" textLength="22.3" lengthAdjust="spacingAndGlyphs">LHY - W.T.</text>
<path d="M403.2 321.1H420.3" stroke="#ED7D31" stroke-width="1.4" fill="none"/>
<text x="422" y="322.8" font-size="4.7" textLength="27.8" lengthAdjust="spacingAndGlyphs">LHY - GI1 4.7</text>
<path d="M376.5 337.9V394.9M381.66 337.9V394.9M386.81 337.9V394.9M391.97 337.9V394.9M397.13 337.9V394.9M402.29 337.9V394.9M407.44 337.9V394.9M412.6 337.9V394.9M417.76 337.9V394.9M422.91 337.9V394.9M428.07 337.9V394.9M433.23 337.9V394.9M438.39 337.9V394.9M443.54 337.9V394.9M448.7 337.9V394.9" stroke="#e9e9e9" stroke-width="0.6" fill="none"/>
<path d="M376.5 394.9H448.7" stroke="#d9d9d9" stroke-width="0.7" fill="none"/>
<text x="358" y="397.2" font-size="6.4" textLength="12.4" lengthAdjust="spacingAndGlyphs">0,00</text>
<text x="358" y="373.7" font-size="6.4" textLength="12.4" lengthAdjust="spacingAndGlyphs">0,50</text>
<text x="358" y="350.2" font-size="6.4" textLength="12.4" lengthAdjust="spacingAndGlyphs">1,00</text>
<text x="374.7" y="406.6" font-size="6.4" textLength="3.6" lengthAdjust="spacingAndGlyphs">0</text>
<text x="385.01" y="406.6" font-size="6.4" textLength="3.6" lengthAdjust="spacingAndGlyphs">3</text>
<text x="395.33" y="406.6" font-size="6.4" textLength="3.6" lengthAdjust="spacingAndGlyphs">6</text>
<text x="405.64" y="406.6" font-size="6.4" textLength="3.6" lengthAdjust="spacingAndGlyphs">9</text>
<text x="414.21" y="406.6" font-size="6.4" textLength="7.1" lengthAdjust="spacingAndGlyphs">12</text>
<text x="424.52" y="406.6" font-size="6.4" textLength="7.1" lengthAdjust="spacingAndGlyphs">15</text>
<text x="434.84" y="406.6" font-size="6.4" textLength="7.1" lengthAdjust="spacingAndGlyphs">18</text>
<text x="445.15" y="406.6" font-size="6.4" textLength="7.1" lengthAdjust="spacingAndGlyphs">21</text>
<text x="399.3" y="414.4" font-size="6.4" textLength="31.2" lengthAdjust="spacingAndGlyphs">ZT&#160;&#160;(hours)</text>
<text transform="translate(353.7 394.7) rotate(-90)" x="0" y="0" font-size="6.4" class="E" textLength="30.2" lengthAdjust="spacingAndGlyphs">Expression</text>
<path d="M376.5 357.77V378.45M374.5 357.77h4M374.5 378.45h4M386.81 380.09V392.31M384.81 380.09h4M384.81 392.31h4M397.13 382.68V394.9M395.13 382.68h4M407.44 387.38V394.9M405.44 387.38h4M428.07 387.38V392.08M426.07 387.38h4M426.07 392.08h4M438.39 374.69V382.21M436.39 374.69h4M436.39 382.21h4M448.7 344.61V360.59M446.7 344.61h4M446.7 360.59h4" stroke="#6E2C14" stroke-width="0.75" fill="none" opacity="0.8"/>
<path d="M376.5 356.36V375.16M374.5 356.36h4M374.5 375.16h4M386.81 381.27V392.55M384.81 381.27h4M384.81 392.55h4M397.13 393.96V394.9M395.13 393.96h4M395.13 394.9h4M407.44 388.32V394.9M405.44 388.32h4M428.07 390.2V394.9M426.07 390.2h4M426.07 394.9h4M438.39 371.4V390.2M436.39 371.4h4M436.39 390.2h4M448.7 357.77V362.47M446.7 357.77h4M446.7 362.47h4" stroke="#ED7D31" stroke-width="0.75" fill="none" opacity="0.8"/>
<polyline points="376.5,368.11 386.81,386.2 397.13,389.73 407.44,392.08 417.76,394.9 428.07,389.73 438.39,378.45 448.7,352.6" stroke="#6E2C14" stroke-width="1.55" fill="none" stroke-linejoin="round" stroke-linecap="round"/>
<polyline points="376.5,365.76 386.81,386.91 397.13,394.43 407.44,392.08 417.76,394.9 428.07,392.55 438.39,380.8 448.7,360.12" stroke="#ED7D31" stroke-width="1.55" fill="none" stroke-linejoin="round" stroke-linecap="round"/>
<path d="M357.6 419.9H375.1" stroke="#6E2C14" stroke-width="1.4" fill="none"/>
<text x="376.5" y="421.6" font-size="4.7" textLength="21.9" lengthAdjust="spacingAndGlyphs">LHY - W.T.</text>
<path d="M402.8 419.9H420" stroke="#ED7D31" stroke-width="1.4" fill="none"/>
<text x="421.7" y="421.6" font-size="4.7" textLength="27" lengthAdjust="spacingAndGlyphs">LHY - GI1 8.1</text>
<text x="357.6" y="124.9" font-size="10.5" textLength="12.8" lengthAdjust="spacingAndGlyphs" class="L">(e)</text>
<text x="392.3" y="124.5" font-size="6.4" textLength="18.9" lengthAdjust="spacingAndGlyphs">PhLHY</text>
<path d="M492.4 134.5V199.7M497.66 134.5V199.7M502.91 134.5V199.7M508.17 134.5V199.7M513.43 134.5V199.7M518.69 134.5V199.7M523.94 134.5V199.7M529.2 134.5V199.7M534.46 134.5V199.7M539.71 134.5V199.7M544.97 134.5V199.7M550.23 134.5V199.7M555.49 134.5V199.7M560.74 134.5V199.7M566 134.5V199.7" stroke="#e9e9e9" stroke-width="0.6" fill="none"/>
<path d="M492.4 199.7H566" stroke="#d9d9d9" stroke-width="0.7" fill="none"/>
<text x="473.9" y="202" font-size="6.4" textLength="12.4" lengthAdjust="spacingAndGlyphs">0,00</text>
<text x="473.9" y="183.3" font-size="6.4" textLength="12.4" lengthAdjust="spacingAndGlyphs">2,00</text>
<text x="473.9" y="164.6" font-size="6.4" textLength="12.4" lengthAdjust="spacingAndGlyphs">4,00</text>
<text x="473.9" y="145.9" font-size="6.4" textLength="12.4" lengthAdjust="spacingAndGlyphs">6,00</text>
<text x="490.6" y="211.4" font-size="6.4" textLength="3.6" lengthAdjust="spacingAndGlyphs">0</text>
<text x="501.11" y="211.4" font-size="6.4" textLength="3.6" lengthAdjust="spacingAndGlyphs">3</text>
<text x="511.63" y="211.4" font-size="6.4" textLength="3.6" lengthAdjust="spacingAndGlyphs">6</text>
<text x="522.14" y="211.4" font-size="6.4" textLength="3.6" lengthAdjust="spacingAndGlyphs">9</text>
<text x="530.91" y="211.4" font-size="6.4" textLength="7.1" lengthAdjust="spacingAndGlyphs">12</text>
<text x="541.42" y="211.4" font-size="6.4" textLength="7.1" lengthAdjust="spacingAndGlyphs">15</text>
<text x="551.94" y="211.4" font-size="6.4" textLength="7.1" lengthAdjust="spacingAndGlyphs">18</text>
<text x="562.45" y="211.4" font-size="6.4" textLength="7.1" lengthAdjust="spacingAndGlyphs">21</text>
<text x="516.4" y="218.5" font-size="6.4" textLength="30.3" lengthAdjust="spacingAndGlyphs">ZT&#160;&#160;(hours)</text>
<text transform="translate(468.5 200.6) rotate(-90)" x="0" y="0" font-size="6.4" class="E" textLength="30.2" lengthAdjust="spacingAndGlyphs">Expression</text>
<path d="M513.43 198.02V198.95M511.43 198.02h4M511.43 198.95h4M523.94 188.85V190.72M521.94 188.85h4M521.94 190.72h4M534.46 150.33V186.42M532.46 150.33h4M532.46 186.42h4M544.97 191.47V193.34M542.97 191.47h4M542.97 193.34h4M555.49 189.98V198.39M553.49 189.98h4M553.49 198.39h4M566 195.68V198.48M564 195.68h4M564 198.48h4" stroke="#4D4D4D" stroke-width="0.75" fill="none" opacity="0.8"/>
<path d="M513.43 197.83V198.76M511.43 197.83h4M511.43 198.76h4M523.94 167.44V183.34M521.94 167.44h4M521.94 183.34h4M534.46 169.78V192.22M532.46 169.78h4M532.46 192.22h4M544.97 188.39V191.19M542.97 188.39h4M542.97 191.19h4M555.49 190.54V196.15M553.49 190.54h4M553.49 196.15h4M566 196.33V199.14M564 196.33h4M564 199.14h4" stroke="#ED7D31" stroke-width="0.75" fill="none" opacity="0.8"/>
<polyline points="492.4,199.42 502.91,199.51 513.43,198.48 523.94,189.79 534.46,168.38 544.97,192.41 555.49,194.18 566,197.08" stroke="#4D4D4D" stroke-width="1.55" fill="none" stroke-linejoin="round" stroke-linecap="round"/>
<polyline points="492.4,199.42 502.91,199.51 513.43,198.3 523.94,175.39 534.46,181 544.97,189.79 555.49,193.34 566,197.74" stroke="#ED7D31" stroke-width="1.55" fill="none" stroke-linejoin="round" stroke-linecap="round"/>
<path d="M469.6 223.4H487.2" stroke="#4D4D4D" stroke-width="1.4" fill="none"/>
<text x="488" y="225.1" font-size="4.7" textLength="27.2" lengthAdjust="spacingAndGlyphs">TOC1&#160; - W.T.</text>
<path d="M518.2 223.4H535.3" stroke="#ED7D31" stroke-width="1.4" fill="none"/>
<text x="536.6" y="225.1" font-size="4.7" textLength="31.1" lengthAdjust="spacingAndGlyphs">TOC1 - GI1 3.7</text>
<path d="M492.4 233.2V295.4M497.66 233.2V295.4M502.91 233.2V295.4M508.17 233.2V295.4M513.43 233.2V295.4M518.69 233.2V295.4M523.94 233.2V295.4M529.2 233.2V295.4M534.46 233.2V295.4M539.71 233.2V295.4M544.97 233.2V295.4M550.23 233.2V295.4M555.49 233.2V295.4M560.74 233.2V295.4M566 233.2V295.4" stroke="#e9e9e9" stroke-width="0.6" fill="none"/>
<path d="M492.4 295.4H566" stroke="#d9d9d9" stroke-width="0.7" fill="none"/>
<text x="473.9" y="297.7" font-size="6.4" textLength="12.4" lengthAdjust="spacingAndGlyphs">0,00</text>
<text x="473.9" y="279.94" font-size="6.4" textLength="12.4" lengthAdjust="spacingAndGlyphs">2,00</text>
<text x="473.9" y="262.18" font-size="6.4" textLength="12.4" lengthAdjust="spacingAndGlyphs">4,00</text>
<text x="473.9" y="244.42" font-size="6.4" textLength="12.4" lengthAdjust="spacingAndGlyphs">6,00</text>
<text x="490.6" y="307.1" font-size="6.4" textLength="3.6" lengthAdjust="spacingAndGlyphs">0</text>
<text x="501.11" y="307.1" font-size="6.4" textLength="3.6" lengthAdjust="spacingAndGlyphs">3</text>
<text x="511.63" y="307.1" font-size="6.4" textLength="3.6" lengthAdjust="spacingAndGlyphs">6</text>
<text x="522.14" y="307.1" font-size="6.4" textLength="3.6" lengthAdjust="spacingAndGlyphs">9</text>
<text x="530.91" y="307.1" font-size="6.4" textLength="7.1" lengthAdjust="spacingAndGlyphs">12</text>
<text x="541.42" y="307.1" font-size="6.4" textLength="7.1" lengthAdjust="spacingAndGlyphs">15</text>
<text x="551.94" y="307.1" font-size="6.4" textLength="7.1" lengthAdjust="spacingAndGlyphs">18</text>
<text x="562.45" y="307.1" font-size="6.4" textLength="7.1" lengthAdjust="spacingAndGlyphs">21</text>
<text x="515.9" y="315.7" font-size="6.4" textLength="30.3" lengthAdjust="spacingAndGlyphs">ZT&#160;&#160;(hours)</text>
<text transform="translate(469 303.2) rotate(-90)" x="0" y="0" font-size="6.4" class="E" textLength="30.2" lengthAdjust="spacingAndGlyphs">Expression</text>
<path d="M513.43 293.45V294.33M511.43 293.45h4M511.43 294.33h4M523.94 284.92V286.7M521.94 284.92h4M521.94 286.7h4M534.46 248.96V282.7M532.46 248.96h4M532.46 282.7h4M544.97 287.14V288.92M542.97 287.14h4M542.97 288.92h4M555.49 286.34V294.33M553.49 286.34h4M553.49 294.33h4M566 291.49V295.04M564 291.49h4M564 295.04h4" stroke="#4D4D4D" stroke-width="0.75" fill="none" opacity="0.8"/>
<path d="M513.43 293.45V294.33M511.43 293.45h4M511.43 294.33h4M523.94 260.32V275.42M521.94 260.32h4M521.94 275.42h4M534.46 265.92V279.24M532.46 265.92h4M532.46 279.24h4M544.97 285.72V288.38M542.97 285.72h4M542.97 288.38h4M555.49 287.05V292.38M553.49 287.05h4M553.49 292.38h4M566 289.54V294.87M564 289.54h4M564 294.87h4" stroke="#ED7D31" stroke-width="0.75" fill="none" opacity="0.8"/>
<polyline points="492.4,295.4 502.91,295.4 513.43,293.89 523.94,285.81 534.46,265.83 544.97,288.03 555.49,290.34 566,293.27" stroke="#4D4D4D" stroke-width="1.55" fill="none" stroke-linejoin="round" stroke-linecap="round"/>
<polyline points="492.4,295.4 502.91,295.4 513.43,293.89 523.94,267.87 534.46,272.58 544.97,287.05 555.49,289.72 566,292.2" stroke="#ED7D31" stroke-width="1.55" fill="none" stroke-linejoin="round" stroke-linecap="round"/>
<path d="M470.2 321.1H487.7" stroke="#4D4D4D" stroke-width="1.4" fill="none"/>
<text x="488.9" y="322.8" font-size="4.7" textLength="27.1" lengthAdjust="spacingAndGlyphs">TOC1&#160; - W.T.</text>
<path d="M519.9 321.1H537.4" stroke="#ED7D31" stroke-width="1.4" fill="none"/>
<text x="539.2" y="322.8" font-size="4.7" textLength="31.2" lengthAdjust="spacingAndGlyphs">TOC1 - GI1 4.7</text>
<path d="M492.4 330.7V394.7M497.66 330.7V394.7M502.91 330.7V394.7M508.17 330.7V394.7M513.43 330.7V394.7M518.69 330.7V394.7M523.94 330.7V394.7M529.2 330.7V394.7M534.46 330.7V394.7M539.71 330.7V394.7M544.97 330.7V394.7M550.23 330.7V394.7M555.49 330.7V394.7M560.74 330.7V394.7M566 330.7V394.7" stroke="#e9e9e9" stroke-width="0.6" fill="none"/>
<path d="M492.4 394.7H566" stroke="#d9d9d9" stroke-width="0.7" fill="none"/>
<text x="473.9" y="397" font-size="6.4" textLength="12.4" lengthAdjust="spacingAndGlyphs">0,00</text>
<text x="473.9" y="378.8" font-size="6.4" textLength="12.4" lengthAdjust="spacingAndGlyphs">2,00</text>
<text x="473.9" y="360.6" font-size="6.4" textLength="12.4" lengthAdjust="spacingAndGlyphs">4,00</text>
<text x="473.9" y="342.4" font-size="6.4" textLength="12.4" lengthAdjust="spacingAndGlyphs">6,00</text>
<text x="490.6" y="406.4" font-size="6.4" textLength="3.6" lengthAdjust="spacingAndGlyphs">0</text>
<text x="501.11" y="406.4" font-size="6.4" textLength="3.6" lengthAdjust="spacingAndGlyphs">3</text>
<text x="511.63" y="406.4" font-size="6.4" textLength="3.6" lengthAdjust="spacingAndGlyphs">6</text>
<text x="522.14" y="406.4" font-size="6.4" textLength="3.6" lengthAdjust="spacingAndGlyphs">9</text>
<text x="530.91" y="406.4" font-size="6.4" textLength="7.1" lengthAdjust="spacingAndGlyphs">12</text>
<text x="541.42" y="406.4" font-size="6.4" textLength="7.1" lengthAdjust="spacingAndGlyphs">15</text>
<text x="551.94" y="406.4" font-size="6.4" textLength="7.1" lengthAdjust="spacingAndGlyphs">18</text>
<text x="562.45" y="406.4" font-size="6.4" textLength="7.1" lengthAdjust="spacingAndGlyphs">21</text>
<text x="515.7" y="414.4" font-size="6.4" textLength="30.1" lengthAdjust="spacingAndGlyphs">ZT&#160;&#160;(hours)</text>
<text transform="translate(469.7 396.3) rotate(-90)" x="0" y="0" font-size="6.4" class="E" textLength="30.2" lengthAdjust="spacingAndGlyphs">Expression</text>
<path d="M513.43 393.52V394.43M511.43 393.52h4M511.43 394.43h4M523.94 383.42V385.24M521.94 383.42h4M521.94 385.24h4M534.46 346.83V381.41M532.46 346.83h4M532.46 381.41h4M544.97 385.87V388.6M542.97 385.87h4M542.97 388.6h4M555.49 385.6V393.79M553.49 385.6h4M553.49 393.79h4M566 390.33V393.06M564 390.33h4M564 393.06h4" stroke="#4D4D4D" stroke-width="0.75" fill="none" opacity="0.8"/>
<path d="M513.43 393.52V394.43M511.43 393.52h4M511.43 394.43h4M523.94 356.21V378.05M521.94 356.21h4M521.94 378.05h4M534.46 365.12V386.06M532.46 365.12h4M532.46 386.06h4M544.97 386.69V389.42M542.97 386.69h4M542.97 389.42h4M555.49 391.61V393.43M553.49 391.61h4M553.49 393.43h4M566 389.88V394.43M564 389.88h4M564 394.43h4" stroke="#ED7D31" stroke-width="0.75" fill="none" opacity="0.8"/>
<polyline points="492.4,394.7 502.91,394.7 513.43,393.97 523.94,384.33 534.46,364.12 544.97,387.24 555.49,389.69 566,391.7" stroke="#4D4D4D" stroke-width="1.55" fill="none" stroke-linejoin="round" stroke-linecap="round"/>
<polyline points="492.4,394.7 502.91,394.7 513.43,393.97 523.94,367.13 534.46,375.59 544.97,388.06 555.49,392.52 566,392.15" stroke="#ED7D31" stroke-width="1.55" fill="none" stroke-linejoin="round" stroke-linecap="round"/>
<path d="M471.9 419H488.9" stroke="#4D4D4D" stroke-width="1.4" fill="none"/>
<text x="490.7" y="420.7" font-size="4.7" textLength="26.8" lengthAdjust="spacingAndGlyphs">TOC1&#160; - W.T.</text>
<path d="M519.6 419H537.1" stroke="#ED7D31" stroke-width="1.4" fill="none"/>
<text x="538.5" y="420.7" font-size="4.7" textLength="30.5" lengthAdjust="spacingAndGlyphs">TOC1 - GI1 8.1</text>
<text x="472.3" y="124.9" font-size="10.5" textLength="10.5" lengthAdjust="spacingAndGlyphs" class="L">(f)</text>
<text x="504.7" y="124.5" font-size="6.4" textLength="24.5" lengthAdjust="spacingAndGlyphs">PhTOC1</text>
<path d="M608.8 134.5V198.9M613.99 134.5V198.9M619.19 134.5V198.9M624.38 134.5V198.9M629.57 134.5V198.9M634.76 134.5V198.9M639.96 134.5V198.9M645.15 134.5V198.9M650.34 134.5V198.9M655.54 134.5V198.9M660.73 134.5V198.9M665.92 134.5V198.9M671.11 134.5V198.9M676.31 134.5V198.9M681.5 134.5V198.9" stroke="#e9e9e9" stroke-width="0.6" fill="none"/>
<path d="M608.8 198.9H681.5" stroke="#d9d9d9" stroke-width="0.7" fill="none"/>
<text x="589.7" y="201.2" font-size="6.4" textLength="12.4" lengthAdjust="spacingAndGlyphs">0,00</text>
<text x="589.7" y="182.7" font-size="6.4" textLength="12.4" lengthAdjust="spacingAndGlyphs">2,00</text>
<text x="589.7" y="164.2" font-size="6.4" textLength="12.4" lengthAdjust="spacingAndGlyphs">4,00</text>
<text x="589.7" y="145.7" font-size="6.4" textLength="12.4" lengthAdjust="spacingAndGlyphs">6,00</text>
<text x="607" y="210.6" font-size="6.4" textLength="3.6" lengthAdjust="spacingAndGlyphs">0</text>
<text x="617.39" y="210.6" font-size="6.4" textLength="3.6" lengthAdjust="spacingAndGlyphs">3</text>
<text x="627.77" y="210.6" font-size="6.4" textLength="3.6" lengthAdjust="spacingAndGlyphs">6</text>
<text x="638.16" y="210.6" font-size="6.4" textLength="3.6" lengthAdjust="spacingAndGlyphs">9</text>
<text x="646.79" y="210.6" font-size="6.4" textLength="7.1" lengthAdjust="spacingAndGlyphs">12</text>
<text x="657.18" y="210.6" font-size="6.4" textLength="7.1" lengthAdjust="spacingAndGlyphs">15</text>
<text x="667.56" y="210.6" font-size="6.4" textLength="7.1" lengthAdjust="spacingAndGlyphs">18</text>
<text x="677.95" y="210.6" font-size="6.4" textLength="7.1" lengthAdjust="spacingAndGlyphs">21</text>
<text x="632.1" y="218.5" font-size="6.4" textLength="30.1" lengthAdjust="spacingAndGlyphs">ZT&#160;&#160;(hours)</text>
<text transform="translate(584.9 198.75) rotate(-90)" x="0" y="0" font-size="6.4" class="E" textLength="30.2" lengthAdjust="spacingAndGlyphs">Expression</text>
<path d="M639.96 165.78V176.88M637.96 165.78h4M637.96 176.88h4M650.34 135.63V155.98M648.34 135.63h4M648.34 155.98h4M660.73 170.97V182.06M658.73 170.97h4M658.73 182.06h4M671.11 177.44V195.02M669.11 177.44h4M669.11 195.02h4M681.5 182.62V197.42M679.5 182.62h4M679.5 197.42h4" stroke="#FFC000" stroke-width="0.75" fill="none" opacity="0.8"/>
<path d="M639.96 173.93V191.5M637.96 173.93h4M637.96 191.5h4M650.34 141.37V176.51M648.34 141.37h4M648.34 176.51h4M660.73 180.68V193.63M658.73 180.68h4M658.73 193.63h4M671.11 190.94V194.65M669.11 190.94h4M669.11 194.65h4M681.5 196.12V197.97M679.5 196.12h4M679.5 197.97h4" stroke="#ED7D31" stroke-width="0.75" fill="none" opacity="0.8"/>
<polyline points="608.8,198.9 619.19,198.9 629.57,198.9 639.96,171.34 650.34,145.81 660.73,176.52 671.11,186.23 681.5,190.02" stroke="#FFC000" stroke-width="1.55" fill="none" stroke-linejoin="round" stroke-linecap="round"/>
<polyline points="608.8,198.9 619.19,198.9 629.57,198.9 639.96,182.71 650.34,158.94 660.73,187.15 671.11,192.8 681.5,197.05" stroke="#ED7D31" stroke-width="1.55" fill="none" stroke-linejoin="round" stroke-linecap="round"/>
<path d="M586 223.9H603.5" stroke="#FFC000" stroke-width="1.4" fill="none"/>
<text x="605.3" y="225.6" font-size="4.7" textLength="24.5" lengthAdjust="spacingAndGlyphs">ELF4&#160; - W.T.</text>
<path d="M635 223.9H652.2" stroke="#ED7D31" stroke-width="1.4" fill="none"/>
<text x="653.5" y="225.6" font-size="4.7" textLength="29.8" lengthAdjust="spacingAndGlyphs">ELF4 - GI1 3.7</text>
<path d="M608.8 233.2V296.5M613.99 233.2V296.5M619.19 233.2V296.5M624.38 233.2V296.5M629.57 233.2V296.5M634.76 233.2V296.5M639.96 233.2V296.5M645.15 233.2V296.5M650.34 233.2V296.5M655.54 233.2V296.5M660.73 233.2V296.5M665.92 233.2V296.5M671.11 233.2V296.5M676.31 233.2V296.5M681.5 233.2V296.5" stroke="#e9e9e9" stroke-width="0.6" fill="none"/>
<path d="M608.8 296.5H681.5" stroke="#d9d9d9" stroke-width="0.7" fill="none"/>
<text x="589.7" y="298.8" font-size="6.4" textLength="12.4" lengthAdjust="spacingAndGlyphs">0,00</text>
<text x="589.7" y="280.9" font-size="6.4" textLength="12.4" lengthAdjust="spacingAndGlyphs">2,00</text>
<text x="589.7" y="263" font-size="6.4" textLength="12.4" lengthAdjust="spacingAndGlyphs">4,00</text>
<text x="589.7" y="245.1" font-size="6.4" textLength="12.4" lengthAdjust="spacingAndGlyphs">6,00</text>
<text x="607" y="308.2" font-size="6.4" textLength="3.6" lengthAdjust="spacingAndGlyphs">0</text>
<text x="617.39" y="308.2" font-size="6.4" textLength="3.6" lengthAdjust="spacingAndGlyphs">3</text>
<text x="627.77" y="308.2" font-size="6.4" textLength="3.6" lengthAdjust="spacingAndGlyphs">6</text>
<text x="638.16" y="308.2" font-size="6.4" textLength="3.6" lengthAdjust="spacingAndGlyphs">9</text>
<text x="646.79" y="308.2" font-size="6.4" textLength="7.1" lengthAdjust="spacingAndGlyphs">12</text>
<text x="657.18" y="308.2" font-size="6.4" textLength="7.1" lengthAdjust="spacingAndGlyphs">15</text>
<text x="667.56" y="308.2" font-size="6.4" textLength="7.1" lengthAdjust="spacingAndGlyphs">18</text>
<text x="677.95" y="308.2" font-size="6.4" textLength="7.1" lengthAdjust="spacingAndGlyphs">21</text>
<text x="632.1" y="316.2" font-size="6.4" textLength="30.1" lengthAdjust="spacingAndGlyphs">ZT&#160;&#160;(hours)</text>
<text transform="translate(585.2 298) rotate(-90)" x="0" y="0" font-size="6.4" class="E" textLength="30.2" lengthAdjust="spacingAndGlyphs">Expression</text>
<path d="M639.96 264.73V284.42M637.96 264.73h4M637.96 284.42h4M650.34 234.75V254.44M648.34 234.75h4M648.34 254.44h4M660.73 269.38V280.12M658.73 269.38h4M658.73 280.12h4M671.11 275.38V293.28M669.11 275.38h4M669.11 293.28h4M681.5 280.84V295.16M679.5 280.84h4M679.5 295.16h4" stroke="#FFC000" stroke-width="0.75" fill="none" opacity="0.8"/>
<path d="M608.8 295.61V296.5M606.8 295.61h4M606.8 296.5h4M639.96 275.92V295.61M637.96 275.92h4M637.96 295.61h4M650.34 257.57V272.78M648.34 257.57h4M648.34 272.78h4M660.73 277.17V285.22M658.73 277.17h4M658.73 285.22h4M671.11 287.37V295.43M669.11 287.37h4M669.11 295.43h4M681.5 292.02V293.81M679.5 292.02h4M679.5 293.81h4" stroke="#ED7D31" stroke-width="0.75" fill="none" opacity="0.8"/>
<polyline points="608.8,296.05 619.19,296.32 629.57,296.32 639.96,274.57 650.34,244.59 660.73,274.75 671.11,284.33 681.5,288" stroke="#FFC000" stroke-width="1.55" fill="none" stroke-linejoin="round" stroke-linecap="round"/>
<polyline points="608.8,296.05 619.19,296.5 629.57,296.5 639.96,285.76 650.34,265.18 660.73,281.2 671.11,291.4 681.5,292.92" stroke="#ED7D31" stroke-width="1.55" fill="none" stroke-linejoin="round" stroke-linecap="round"/>
<path d="M586 322H603.5" stroke="#FFC000" stroke-width="1.4" fill="none"/>
<text x="605.3" y="323.7" font-size="4.7" textLength="24.5" lengthAdjust="spacingAndGlyphs">ELF4&#160; - W.T.</text>
<path d="M635 322H652.2" stroke="#ED7D31" stroke-width="1.4" fill="none"/>
<text x="653.5" y="323.7" font-size="4.7" textLength="29.8" lengthAdjust="spacingAndGlyphs">ELF4 - GI1 4.7</text>
<path d="M608.8 330.7V394.4M613.99 330.7V394.4M619.19 330.7V394.4M624.38 330.7V394.4M629.57 330.7V394.4M634.76 330.7V394.4M639.96 330.7V394.4M645.15 330.7V394.4M650.34 330.7V394.4M655.54 330.7V394.4M660.73 330.7V394.4M665.92 330.7V394.4M671.11 330.7V394.4M676.31 330.7V394.4M681.5 330.7V394.4" stroke="#e9e9e9" stroke-width="0.6" fill="none"/>
<path d="M608.8 394.4H681.5" stroke="#d9d9d9" stroke-width="0.7" fill="none"/>
<text x="589.7" y="396.7" font-size="6.4" textLength="12.4" lengthAdjust="spacingAndGlyphs">0,00</text>
<text x="589.7" y="378.8" font-size="6.4" textLength="12.4" lengthAdjust="spacingAndGlyphs">2,00</text>
<text x="589.7" y="360.9" font-size="6.4" textLength="12.4" lengthAdjust="spacingAndGlyphs">4,00</text>
<text x="589.7" y="343" font-size="6.4" textLength="12.4" lengthAdjust="spacingAndGlyphs">6,00</text>
<text x="607" y="406.1" font-size="6.4" textLength="3.6" lengthAdjust="spacingAndGlyphs">0</text>
<text x="617.39" y="406.1" font-size="6.4" textLength="3.6" lengthAdjust="spacingAndGlyphs">3</text>
<text x="627.77" y="406.1" font-size="6.4" textLength="3.6" lengthAdjust="spacingAndGlyphs">6</text>
<text x="638.16" y="406.1" font-size="6.4" textLength="3.6" lengthAdjust="spacingAndGlyphs">9</text>
<text x="646.79" y="406.1" font-size="6.4" textLength="7.1" lengthAdjust="spacingAndGlyphs">12</text>
<text x="657.18" y="406.1" font-size="6.4" textLength="7.1" lengthAdjust="spacingAndGlyphs">15</text>
<text x="667.56" y="406.1" font-size="6.4" textLength="7.1" lengthAdjust="spacingAndGlyphs">18</text>
<text x="677.95" y="406.1" font-size="6.4" textLength="7.1" lengthAdjust="spacingAndGlyphs">21</text>
<text x="632.1" y="415.3" font-size="6.4" textLength="30.1" lengthAdjust="spacingAndGlyphs">ZT&#160;&#160;(hours)</text>
<text transform="translate(585.2 395.3) rotate(-90)" x="0" y="0" font-size="6.4" class="E" textLength="30.2" lengthAdjust="spacingAndGlyphs">Expression</text>
<path d="M639.96 361.73V374.26M637.96 361.73h4M637.96 374.26h4M650.34 333V352.69M648.34 333h4M648.34 352.69h4M660.73 367.91V378.65M658.73 367.91h4M658.73 378.65h4M671.11 373.1V391M669.11 373.1h4M669.11 391h4M681.5 378.74V393.06M679.5 378.74h4M679.5 393.06h4" stroke="#FFC000" stroke-width="0.75" fill="none" opacity="0.8"/>
<path d="M639.96 363.97V380.08M637.96 363.97h4M637.96 380.08h4M650.34 354.57V372.47M648.34 354.57h4M648.34 372.47h4M660.73 376.05V384.11M658.73 376.05h4M658.73 384.11h4M671.11 384.82V390.19M669.11 384.82h4M669.11 390.19h4M681.5 390.82V392.61M679.5 390.82h4M679.5 392.61h4" stroke="#ED7D31" stroke-width="0.75" fill="none" opacity="0.8"/>
<polyline points="608.8,394.22 619.19,394.4 629.57,394.4 639.96,368 650.34,342.85 660.73,373.28 671.11,382.05 681.5,385.9" stroke="#FFC000" stroke-width="1.55" fill="none" stroke-linejoin="round" stroke-linecap="round"/>
<polyline points="608.8,394.22 619.19,394.4 629.57,394.4 639.96,372.02 650.34,363.52 660.73,380.08 671.11,387.51 681.5,391.71" stroke="#ED7D31" stroke-width="1.55" fill="none" stroke-linejoin="round" stroke-linecap="round"/>
<path d="M586 419.9H603.5" stroke="#FFC000" stroke-width="1.4" fill="none"/>
<text x="605.3" y="421.6" font-size="4.7" textLength="24.5" lengthAdjust="spacingAndGlyphs">ELF4&#160; - W.T.</text>
<path d="M635 419.9H652.2" stroke="#ED7D31" stroke-width="1.4" fill="none"/>
<text x="653.5" y="421.6" font-size="4.7" textLength="29.8" lengthAdjust="spacingAndGlyphs">ELF4 - GI1 8.1</text>
<text x="590.9" y="124.9" font-size="10.5" textLength="12.3" lengthAdjust="spacingAndGlyphs" class="L">(g)</text>
<text x="622.5" y="124.5" font-size="6.4" textLength="21.3" lengthAdjust="spacingAndGlyphs">PhELF4</text>
</svg>
</body></html>
